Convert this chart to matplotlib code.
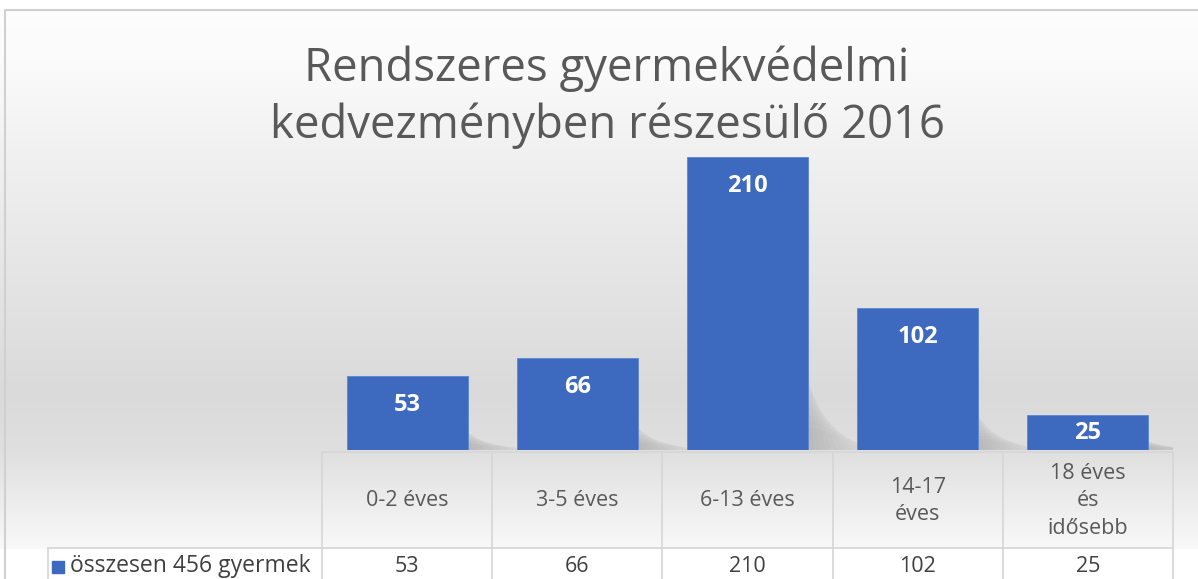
import numpy as np
import matplotlib
matplotlib.use('Agg')
import matplotlib.pyplot as plt
from matplotlib.patches import Rectangle, Polygon
from matplotlib.transforms import blended_transform_factory

TITLE = 'Rendszeres gyermekvédelmi\nkedvezményben részesülő 2016'
CATEGORIES = ['0-2 éves', '3-5 éves', '6-13 éves', '14-17\néves', '18 éves\nés\nidősebb']
VALUES = [53, 66, 210, 102, 25]
SERIES = 'összesen 456 gyermek'

BAR_COLOR = '#3d69bf'
GRID_COLOR = '#d6d6d6'
TEXT_COLOR = '#595959'
W, H = 1198, 579

plt.rcParams['font.family'] = ['Open Sans', 'DejaVu Sans']

fig = plt.figure(figsize=(W / 100, H / 100), dpi=100)

def fx(px):  # pixel -> figure fraction
    return px / W

def fy(py):
    return 1 - py / H

# background gradient (white at top, grey towards the bars, lighter in the table)
bg = fig.add_axes([0, 0, 1, 1], zorder=-10)
rows = np.arange(H)
shade = np.interp(rows, [0, 9, 10, 60, 150, 390, 450, 548, 549, 579],
                  [1.0, 1.0, 0.99, 0.985, 0.945, 0.855, 0.875, 0.975, 1.0, 1.0])
grad = np.repeat(shade[:, None], 3, axis=1)[:, None, :]
bg.imshow(grad, aspect='auto', extent=[0, W, H, 0], interpolation='bilinear')
bg.set_xlim(0, W)
bg.set_ylim(H, 0)
bg.axis('off')
# chart border
bg.plot([5, 5, W + 5], [H + 5, 10, 10], color='#d0d0d0', lw=1.5)

# plot area
left, right = 322, 1173
top, bottom = 101, 450
ax = fig.add_axes([fx(left), fy(bottom), fx(right - left), (bottom - top) / H])
ax.patch.set_alpha(0)
x = np.arange(len(VALUES))
ax.set_xlim(-0.5, len(VALUES) - 0.5)
ax.set_ylim(0, 250)

# soft shadows behind the bars, leaning to the lower right
for xi, v in zip(x, VALUES):
    for k in range(14):
        h = v * (0.36 - 0.022 * k)
        x0 = xi - 0.3 + 0.014 * k
        ax.add_patch(Polygon([(x0, 0), (x0 + 0.62 + 0.02 * k, 0),
                              (x0 + 0.62 - 0.008 * k, h), (x0, h)],
                             closed=True, facecolor='#606060', alpha=0.022,
                             lw=0, antialiased=False, zorder=1))

bars = ax.bar(x, VALUES, width=0.71, color=BAR_COLOR, edgecolor='#5b86d6',
              linewidth=0.6, zorder=3)
for xi, v in zip(x, VALUES):
    ly = max(v - 21, v / 2)
    ax.text(xi, ly, str(v), ha='center', va='center', color='white',
            fontsize=17, fontweight='bold', zorder=4)
ax.axis('off')

fig.text(fx(607), fy(97), TITLE, ha='center', va='center', fontsize=32.8,
         color=TEXT_COLOR, linespacing=1.3)

# data table under the bars
trans = blended_transform_factory(ax.transData, fig.transFigure)
line_kw = dict(color=GRID_COLOR, lw=1.2, transform=trans, clip_on=False)
edges = np.arange(len(VALUES) + 1) - 0.5
for e in edges:
    ax.plot([e, e], [fy(452), fy(579)], **line_kw)
ax.plot([edges[0], edges[-1]], [fy(452), fy(452)], **line_kw)
fig.add_artist(plt.Line2D([fx(48), fx(right)], [fy(548), fy(548)], color=GRID_COLOR, lw=1.2))
fig.add_artist(plt.Line2D([fx(48), fx(48)], [fy(548), fy(579)], color=GRID_COLOR, lw=1.2))

for xi, cat, v in zip(x, CATEGORIES, VALUES):
    ax.text(xi, fy(501), cat, transform=trans, ha='center', va='center',
            fontsize=15.5, color=TEXT_COLOR, linespacing=1.4)
    ax.text(xi, fy(566), str(v), transform=trans, ha='center', va='center',
            fontsize=15.5, color='#404040')

fig.add_artist(Rectangle((fx(52), fy(573)), fx(12), 12 / H, color=BAR_COLOR,
                         transform=fig.transFigure))
fig.text(fx(70), fy(566), SERIES, ha='left', va='center', fontsize=16.5,
         color='#404040')

fig.savefig('out.png', dpi=100)
